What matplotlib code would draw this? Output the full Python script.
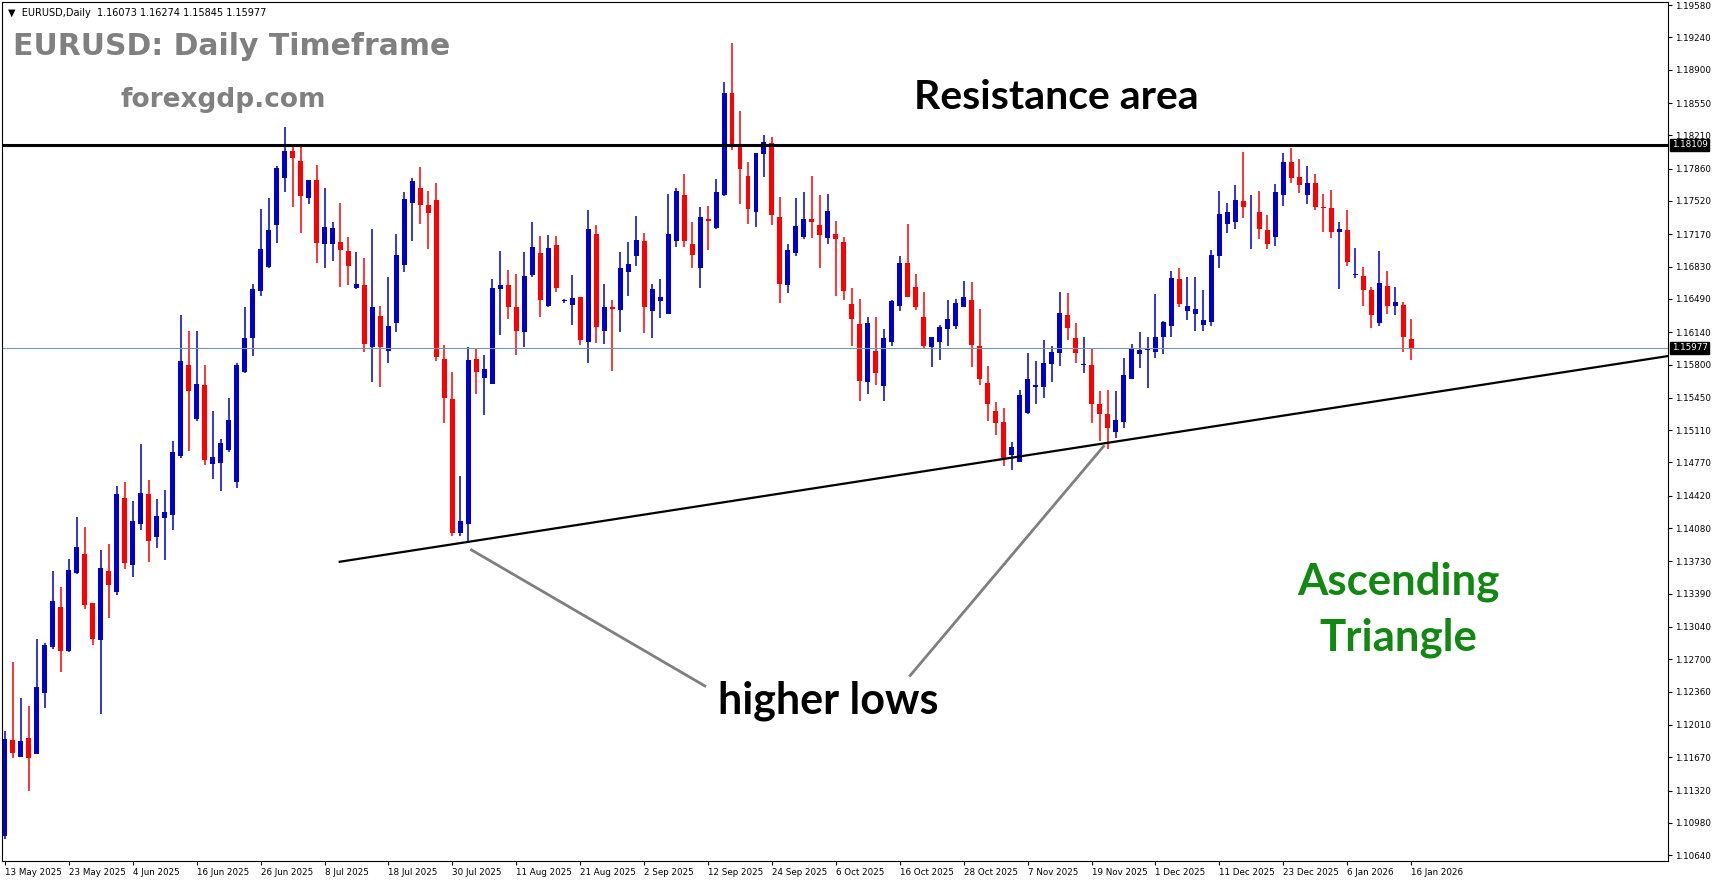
import matplotlib
matplotlib.use("Agg")
import matplotlib.pyplot as plt
import matplotlib.transforms as mtransforms

# OHLC verileri (gunluk EURUSD, 13 May 2025 - 16 Jan 2026)
opens = [1.1084,1.1185,1.1167,1.1187,1.1170,1.1235,1.1283,1.1325,1.1279,1.1361,
         1.1381,1.1329,1.1290,1.1363,1.1341,1.1440,1.1369,1.1412,1.1444,1.1399,
         1.1419,1.1422,1.1484,1.1580,1.1523,1.1558,1.1475,1.1476,1.1490,1.1456,
         1.1572,1.1608,1.1657,1.1683,1.1727,1.1776,1.1805,1.1794,1.1755,1.1774,
         1.1707,1.1707,1.1709,1.1699,1.1660,1.1664,1.1598,1.1631,1.1594,1.1624,
         1.1685,1.1750,1.1766,1.1748,1.1753,1.1586,1.1544,1.1403,1.1412,1.1586,
         1.1566,1.1559,1.1659,1.1664,1.1641,1.1614,1.1674,1.1697,1.1642,1.1706,
         1.1647,1.1643,1.1651,1.1604,1.1717,1.1615,1.1641,1.1637,1.1677,1.1694,
         1.1710,1.1636,1.1647,1.1633,1.1710,1.1758,1.1707,1.1681,1.1733,1.1724,
         1.1758,1.1866,1.1810,1.1778,1.1740,1.1801,1.1813,1.1735,1.1664,1.1697,
         1.1714,1.1733,1.1727,1.1713,1.1717,1.1709,1.1644,1.1623,1.1562,1.1594,
         1.1557,1.1604,1.1642,1.1687,1.1662,1.1630,1.1598,1.1604,1.1617,1.1621,
         1.1640,1.1648,1.1599,1.1561,1.1531,1.1520,1.1485,1.1477,1.1529,1.1556,
         1.1556,1.1581,1.1592,1.1632,1.1608,1.1580,1.1580,1.1538,1.1528,1.1509,
         1.1520,1.1565,1.1591,1.1595,1.1593,1.1609,1.1621,1.1670,1.1636,1.1633,
         1.1622,1.1625,1.1694,1.1728,1.1730,1.1752,1.1740,1.1740,1.1721,1.1714,
         1.1758,1.1793,1.1777,1.1758,1.1771,1.1746,1.1745,1.1719,1.1721,1.1674,
         1.1673,1.1658,1.1624,1.1663,1.1642,1.1643,1.16073]
highs = [1.1195,1.1267,1.1229,1.1221,1.1291,1.1287,1.1363,1.1346,1.1376,1.1420,
         1.1409,1.1329,1.1385,1.1391,1.1452,1.1456,1.1436,1.1496,1.1459,1.1439,
         1.1448,1.1500,1.1632,1.1615,1.1615,1.1580,1.1531,1.1502,1.1545,1.1582,
         1.1641,1.1665,1.1744,1.1755,1.1789,1.1830,1.1810,1.1810,1.1774,1.1790,
         1.1766,1.1730,1.1750,1.1714,1.1698,1.1692,1.1723,1.1642,1.1672,1.1717,
         1.1761,1.1776,1.1788,1.1762,1.1771,1.1601,1.1572,1.1463,1.1598,1.1596,
         1.1590,1.1670,1.1699,1.1679,1.1675,1.1698,1.1730,1.1715,1.1716,1.1715,
         1.1649,1.1674,1.1651,1.1743,1.1727,1.1665,1.1648,1.1698,1.1709,1.1736,
         1.1718,1.1665,1.1670,1.1759,1.1766,1.1780,1.1730,1.1746,1.1747,1.1775,
         1.1877,1.1918,1.1847,1.1793,1.1802,1.1821,1.1819,1.1756,1.1707,1.1755,
         1.1761,1.1778,1.1758,1.1759,1.1731,1.1714,1.1661,1.1649,1.1630,1.1630,
         1.1617,1.1648,1.1694,1.1728,1.1675,1.1656,1.1609,1.1622,1.1648,1.1649,
         1.1668,1.1667,1.1638,1.1578,1.1541,1.1534,1.1499,1.1553,1.1592,1.1584,
         1.1606,1.1599,1.1656,1.1655,1.1624,1.1609,1.1597,1.1552,1.1553,1.1552,
         1.1587,1.1602,1.1614,1.1609,1.1654,1.1626,1.1678,1.1682,1.1672,1.1672,
         1.1658,1.1700,1.1762,1.1750,1.1769,1.1804,1.1758,1.1762,1.1737,1.1770,
         1.1802,1.1808,1.1796,1.1789,1.1780,1.1759,1.1764,1.1730,1.1743,1.1703,
         1.1683,1.1662,1.1699,1.1678,1.1662,1.1646,1.16274]
lows = [1.1081,1.1166,1.1167,1.1132,1.1170,1.1219,1.1281,1.1257,1.1278,1.1360,
        1.1323,1.1285,1.1212,1.1313,1.1338,1.1365,1.1357,1.1406,1.1372,1.1387,
        1.1374,1.1406,1.1482,1.1489,1.1521,1.1474,1.1460,1.1447,1.1488,1.1450,
        1.1571,1.1589,1.1652,1.1681,1.1708,1.1761,1.1746,1.1718,1.1749,1.1687,
        1.1682,1.1689,1.1662,1.1664,1.1659,1.1593,1.1562,1.1556,1.1582,1.1614,
        1.1677,1.1710,1.1728,1.1702,1.1584,1.1519,1.1400,1.1400,1.1393,1.1549,
        1.1527,1.1559,1.1611,1.1628,1.1590,1.1598,1.1672,1.1630,1.1641,1.1656,
        1.1645,1.1622,1.1601,1.1582,1.1603,1.1602,1.1573,1.1614,1.1652,1.1684,
        1.1613,1.1608,1.1629,1.1633,1.1704,1.1704,1.1681,1.1661,1.1700,1.1723,
        1.1757,1.1806,1.1749,1.1728,1.1725,1.1777,1.1727,1.1645,1.1655,1.1694,
        1.1712,1.1713,1.1682,1.1707,1.1652,1.1648,1.1599,1.1542,1.1549,1.1558,
        1.1542,1.1599,1.1636,1.1651,1.1637,1.1597,1.1577,1.1585,1.1600,1.1617,
        1.1640,1.1577,1.1558,1.1521,1.1506,1.1473,1.1469,1.1477,1.1528,1.1539,
        1.1545,1.1562,1.1578,1.1606,1.1582,1.1571,1.1518,1.1500,1.1491,1.1503,
        1.1513,1.1565,1.1576,1.1555,1.1587,1.1591,1.1609,1.1640,1.1627,1.1615,
        1.1615,1.1621,1.1681,1.1718,1.1723,1.1734,1.1702,1.1712,1.1702,1.1705,
        1.1747,1.1771,1.1760,1.1749,1.1743,1.1719,1.1713,1.1659,1.1684,1.1671,
        1.1642,1.1618,1.1621,1.1633,1.1632,1.1593,1.15845]
closes = [1.1186,1.1171,1.1184,1.1166,1.1241,1.1285,1.1331,1.1279,1.1364,1.1388,
          1.1327,1.1291,1.1366,1.1348,1.1444,1.1371,1.1415,1.1445,1.1394,1.1421,
          1.1425,1.1488,1.1584,1.1552,1.1559,1.1480,1.1483,1.1497,1.1522,1.1579,
          1.1608,1.1659,1.1701,1.1721,1.1787,1.1805,1.1797,1.1757,1.1774,1.1708,
          1.1725,1.1724,1.1700,1.1684,1.1665,1.1602,1.1641,1.1598,1.1621,1.1695,
          1.1754,1.1773,1.1748,1.1739,1.1588,1.1545,1.1403,1.1415,1.1585,1.1572,
          1.1575,1.1660,1.1664,1.1640,1.1615,1.1673,1.1704,1.1648,1.1703,1.1660,
          1.1647,1.1650,1.1606,1.1722,1.1619,1.1641,1.1638,1.1681,1.1686,1.1711,
          1.1641,1.1659,1.1651,1.1717,1.1762,1.1710,1.1695,1.1735,1.1731,1.1761,
          1.1866,1.1810,1.1786,1.1744,1.1802,1.1814,1.1737,1.1665,1.1700,1.1726,
          1.1733,1.1730,1.1716,1.1741,1.1712,1.1657,1.1628,1.1563,1.1624,1.1571,
          1.1608,1.1647,1.1687,1.1651,1.1640,1.1599,1.1609,1.1619,1.1628,1.1645,
          1.1651,1.1601,1.1565,1.1538,1.1518,1.1482,1.1493,1.1548,1.1565,1.1558,
          1.1582,1.1593,1.1634,1.1618,1.1592,1.1580,1.1538,1.1528,1.1513,1.1522,
          1.1569,1.1597,1.1595,1.1596,1.1609,1.1625,1.1671,1.1644,1.1642,1.1638,
          1.1627,1.1695,1.1738,1.1740,1.1753,1.1746,1.1740,1.1723,1.1707,1.1761,
          1.1793,1.1776,1.1769,1.1771,1.1746,1.1745,1.1719,1.1722,1.1688,1.1675,
          1.1658,1.1632,1.1666,1.1642,1.1646,1.1609,1.15977]

date_labels = ["13 May 2025", "23 May 2025", "4 Jun 2025", "16 Jun 2025", "26 Jun 2025",
               "8 Jul 2025", "18 Jul 2025", "30 Jul 2025", "11 Aug 2025", "21 Aug 2025",
               "2 Sep 2025", "12 Sep 2025", "24 Sep 2025", "6 Oct 2025", "16 Oct 2025",
               "28 Oct 2025", "7 Nov 2025", "19 Nov 2025", "1 Dec 2025", "11 Dec 2025",
               "23 Dec 2025", "6 Jan 2026", "16 Jan 2026"]
price_ticks = [1.19580, 1.19240, 1.18900, 1.18550, 1.18210, 1.17860, 1.17520, 1.17170,
               1.16830, 1.16490, 1.16140, 1.15800, 1.15450, 1.15110, 1.14770, 1.14420,
               1.14080, 1.13730, 1.13390, 1.13040, 1.12700, 1.12360, 1.12010, 1.11670,
               1.11320, 1.10980, 1.10640]

resistance = 1.18109
last_price = 1.15977
trend_x = [41.9, 208.2]
trend_y = [1.13726, 1.15890]
pointer1_x = [58.4, 87.6]
pointer1_y = [1.1385, 1.1242]
pointer2_x = [137.5, 113.3]
pointer2_y = [1.1494, 1.1253]

fig = plt.figure(figsize=(17.13, 8.88), dpi=100)
ax = fig.add_axes([0.001, 0.0305, 0.973, 0.967])

# mumler
for i in range(len(opens)):
    o, h, l, c = opens[i], highs[i], lows[i], closes[i]
    col = "#0000CC" if c >= o else "#FF0000"
    ax.vlines(i, l, h, color=col, linewidth=1.1)
    body = max(abs(c - o), 0.00004)
    ax.bar(i, body, bottom=min(o, c), width=0.62, color=col, linewidth=0)

ax.axhline(resistance, color="black", linewidth=2.2)
ax.axhline(last_price, color="#7a96b4", linewidth=0.8)
ax.plot(trend_x, trend_y, color="black", linewidth=1.6)
ax.plot(pointer1_x, pointer1_y, color="#7f7f7f", linewidth=2)
ax.plot(pointer2_x, pointer2_y, color="#7f7f7f", linewidth=2)

ax.set_xlim(-0.4, 208.2)
ax.set_ylim(1.1058, 1.1961)

ax.yaxis.tick_right()
ax.set_yticks(price_ticks)
ax.set_yticklabels(["%.5f" % p for p in price_ticks], fontsize=6.3)
ax.set_xticks(range(0, 8 * len(date_labels), 8))
ax.set_xticklabels(date_labels, fontsize=6.3, ha="left")
ax.tick_params(axis="both", length=3, width=0.8, pad=2)
for s in ax.spines.values():
    s.set_linewidth(0.8)

trans = mtransforms.blended_transform_factory(ax.transAxes, ax.transData)
for val in [resistance, last_price]:
    ax.text(1.002, val, "%.5f" % val, transform=trans, fontsize=6.3, color="white",
            va="center", ha="left",
            bbox=dict(boxstyle="square,pad=0.15", fc="black", ec="black"))

ax.text(0.004, 0.993, "\u25bc  EURUSD,Daily  1.16073 1.16274 1.15845 1.15977",
        transform=ax.transAxes, fontsize=7, va="top", ha="left")
ax.text(0.0066, 0.948, "EURUSD: Daily Timeframe", transform=ax.transAxes, fontsize=21.5,
        color="#808080", fontweight="bold", va="center", ha="left")
ax.text(0.133, 0.886, "forexgdp.com", transform=ax.transAxes, fontsize=19,
        color="#808080", fontweight="bold", va="center", ha="center")
ax.text(0.633, 0.889, "Resistance area", transform=ax.transAxes, fontsize=29.5,
        family="Lato", fontweight="bold", va="center", ha="center")
ax.text(0.496, 0.187, "higher lows", transform=ax.transAxes, fontsize=31,
        family="Lato", fontweight="bold", va="center", ha="center")
ax.text(0.838, 0.325, "Ascending", transform=ax.transAxes, fontsize=31.5,
        family="Lato", fontweight="bold", color="#118811", va="center", ha="center")
ax.text(0.838, 0.260, "Triangle", transform=ax.transAxes, fontsize=31.5,
        family="Lato", fontweight="bold", color="#118811", va="center", ha="center")

fig.savefig("out.png", dpi=100)
